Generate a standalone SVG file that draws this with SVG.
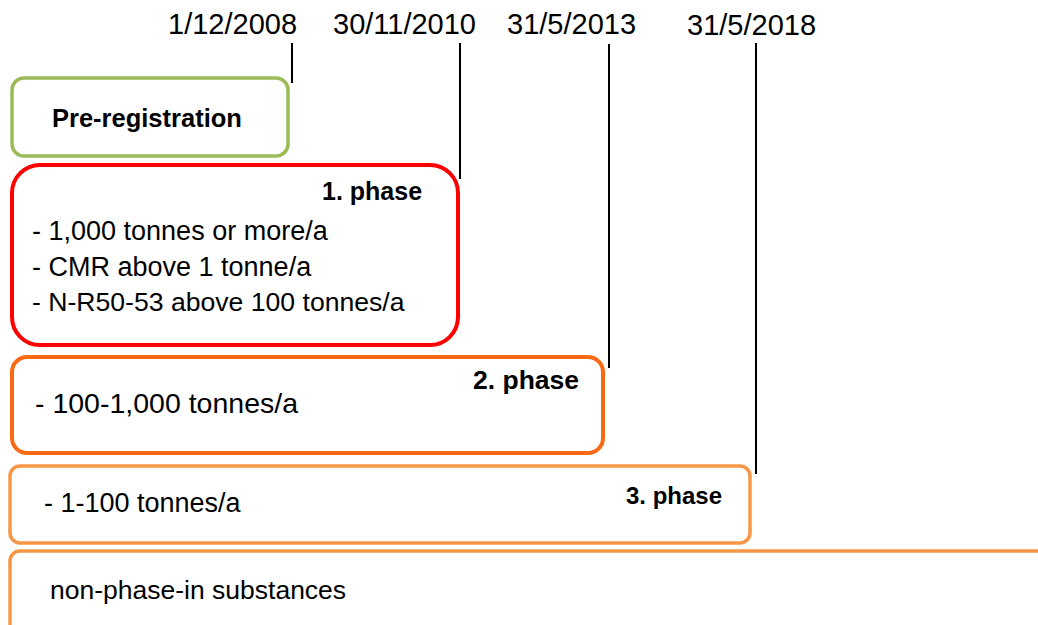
<svg xmlns="http://www.w3.org/2000/svg" width="1038" height="625" viewBox="0 0 1038 625">
<style>
.t{font-family:"Liberation Sans",Arial,sans-serif;font-size:27px;fill:#000}
.b{font-family:"Liberation Sans",Arial,sans-serif;font-weight:bold;fill:#000}
.d{font-family:"Liberation Sans",Arial,sans-serif;font-size:29px;fill:#000}
.box{fill:#fff}
.ln{stroke:#000;stroke-width:2;fill:none}
</style>
<rect width="1038" height="625" fill="#fff"/>
<g id="dates">
<text class="d" x="168" y="34">1/12/2008</text>
<text class="d" x="333" y="34">30/11/2010</text>
<text class="d" x="507" y="34">31/5/2013</text>
<text class="d" x="687" y="35">31/5/2018</text>
</g>
<g id="connectors">
<line class="ln" x1="292" y1="43" x2="292" y2="83"/>
<line class="ln" x1="460" y1="43" x2="460" y2="179"/>
<line class="ln" x1="609" y1="44" x2="609" y2="368"/>
<line class="ln" x1="756" y1="43" x2="756" y2="474"/>
</g>
<g id="preregistration">
<rect class="box" x="12" y="78" width="276" height="78" rx="12" stroke="#9BBB59" stroke-width="3.5"/>
<text class="b" x="52" y="127" style="font-size:25.5px">Pre-registration</text>
</g>
<g id="phase1">
<rect class="box" x="12" y="165" width="446" height="180" rx="28" stroke="#FF0000" stroke-width="4"/>
<text class="b" x="322" y="200" style="font-size:25px">1. phase</text>
<text class="t" x="32" y="240">- 1,000 tonnes or more/a</text>
<text class="t" x="32" y="276">- CMR above 1 tonne/a</text>
<text class="t" x="32" y="311" style="font-size:26.6px">- N-R50-53 above 100 tonnes/a</text>
</g>
<g id="phase2">
<rect class="box" x="12" y="357" width="591" height="96" rx="15" stroke="#FA6A14" stroke-width="4"/>
<text class="b" x="473" y="389" style="font-size:26.5px">2. phase</text>
<text class="t" x="35" y="413" style="font-size:28.5px">- 100-1,000 tonnes/a</text>
</g>
<g id="phase3">
<rect class="box" x="10" y="466" width="740" height="77" rx="10" stroke="#F79646" stroke-width="3.5"/>
<text class="b" x="626" y="504" style="font-size:24px">3. phase</text>
<text class="t" x="44" y="512">- 1-100 tonnes/a</text>
</g>
<g id="nonphasein">
<rect class="box" x="10" y="551" width="1040" height="90" rx="10" stroke="#F79646" stroke-width="3.5"/>
<text class="t" x="50" y="599" style="font-size:26.5px">non-phase-in substances</text>
</g>
</svg>
